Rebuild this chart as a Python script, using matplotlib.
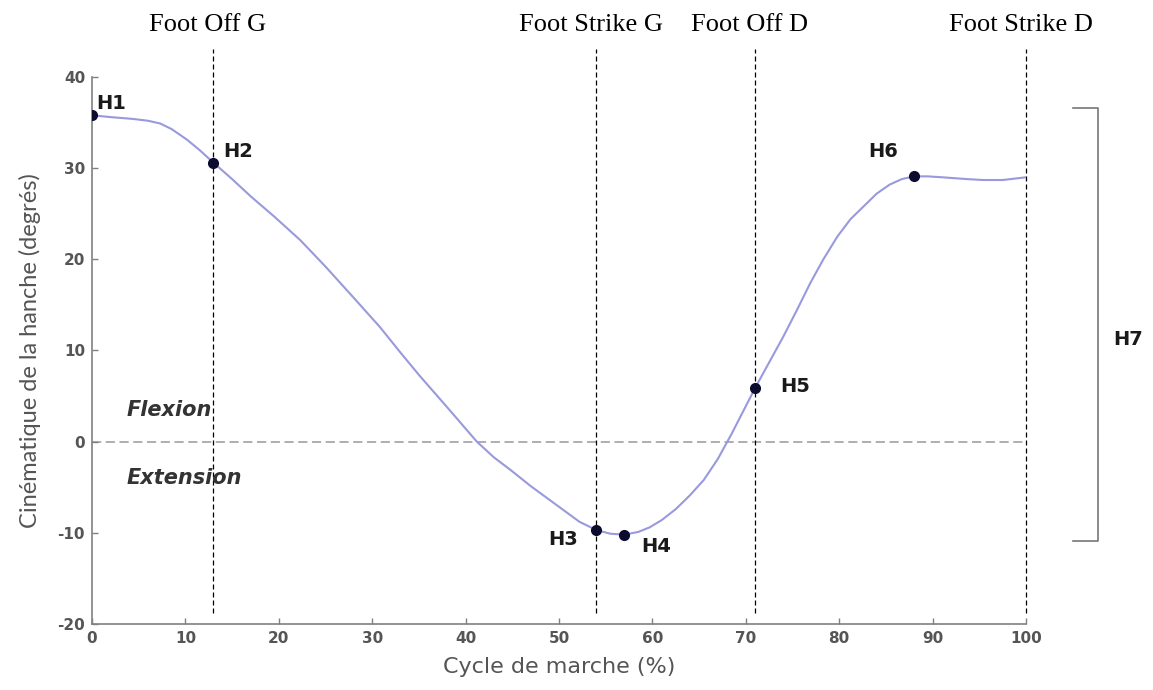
import matplotlib
matplotlib.use("Agg")
import matplotlib.pyplot as plt

plt.rcParams["axes.unicode_minus"] = False

# hip kinematics over the gait cycle
cycle = [0, 2, 4.4, 6, 7.3, 8.5, 9.5, 10.2, 11.5, 13, 15, 17, 19.5, 22.3, 25,
         28, 30.8, 33, 35.1, 38, 41.2, 43, 44.8, 47, 49, 51, 52.2, 54, 55.5,
         57, 58.5, 59.7, 61, 62.5, 64, 65.5, 67, 68.5, 70, 71, 72.5, 74, 75.5,
         76.9, 78.3, 79.8, 81.2, 82.5, 84, 85.4, 86.7, 88, 89.5, 91, 93.7,
         95.4, 97.5, 100]
angle = [35.8, 35.6, 35.4, 35.2, 34.9, 34.3, 33.6, 33.1, 32.0, 30.6, 28.8,
         26.9, 24.7, 22.1, 19.2, 15.8, 12.6, 9.8, 7.2, 3.8, 0.0, -1.7, -3.1,
         -4.9, -6.4, -7.9, -8.8, -9.7, -10.1, -10.2, -9.9, -9.4, -8.6, -7.4,
         -5.9, -4.2, -1.9, 0.9, 3.9, 5.9, 8.7, 11.5, 14.5, 17.4, 20.0, 22.5,
         24.4, 25.7, 27.2, 28.2, 28.8, 29.1, 29.1, 29.0, 28.8, 28.7, 28.7, 29.0]

# key points H1..H6
key_names = ["H1", "H2", "H3", "H4", "H5", "H6"]
key_x = [0, 13, 54, 57, 71, 88]
key_y = [35.8, 30.6, -9.7, -10.2, 5.9, 29.1]
# label anchors (x, y, horizontal alignment)
key_lab = [(0.5, 37.1, "left"), (14.0, 31.8, "left"), (52.0, -10.7, "right"),
           (58.8, -11.5, "left"), (73.7, 6.0, "left"), (83.1, 31.8, "left")]

# gait events
event_names = ["Foot Off G", "Foot Strike G", "Foot Off D", "Foot Strike D"]
event_x = [13, 54, 71, 100]

# H7 range bracket
h7_top = 36.6
h7_bottom = -10.9

fig = plt.figure(figsize=(11.53, 6.9), dpi=100)
ax = fig.add_axes([0.0798, 0.0957, 0.8101, 0.7927])

ax.plot(cycle, angle, color="#9999dd", lw=1.5, zorder=3)
ax.plot(key_x, key_y, "o", color="#0b0b2e", ms=7, zorder=4)
for name, (lx, ly, ha) in zip(key_names, key_lab):
    ax.text(lx, ly, name, ha=ha, va="center", fontsize=14,
            fontweight="bold", color="#1a1a1a")

ax.axhline(0, color="#999999", lw=1.1, ls=(0, (6, 3)), zorder=1)
ax.text(3.7, 3.5, "Flexion", fontsize=15, fontweight="bold",
        fontstyle="italic", color="#333333", va="center")
ax.text(3.7, -4.0, "Extension", fontsize=15, fontweight="bold",
        fontstyle="italic", color="#333333", va="center")

for name, ex in zip(event_names, event_x):
    ax.plot([ex, ex], [-18.8, 43.1], color="black", lw=0.9,
            ls=(0, (4, 2.4)), clip_on=False, zorder=2)
    ax.text(ex - 0.6, 45.0, name, ha="center", va="baseline", fontsize=19,
            family="Liberation Serif", color="black")

# bracket for H7
ax.plot([105.0, 107.7, 107.7, 105.0], [h7_top, h7_top, h7_bottom, h7_bottom],
        color="#777777", lw=1.2, clip_on=False)
ax.text(109.3, 11.2, "H7", fontsize=14, fontweight="bold",
        color="#1a1a1a", va="center")

ax.set_xlim(0, 100)
ax.set_ylim(-20, 40)
ax.set_xticks(range(0, 101, 10))
ax.set_yticks(range(-20, 41, 10))
for side in ["top", "right"]:
    ax.spines[side].set_visible(False)
for side in ["left", "bottom"]:
    ax.spines[side].set_color("#808080")
    ax.spines[side].set_linewidth(1.2)
ax.tick_params(direction="in", length=4, width=1, color="#808080",
               labelsize=11, labelcolor="#555555", pad=5)
for lab in ax.get_xticklabels() + ax.get_yticklabels():
    lab.set_fontweight("bold")

ax.set_xlabel("Cycle de marche (%)", fontsize=16, color="#555555", labelpad=8)
ax.set_ylabel("Cinématique de la hanche (degrés)", fontsize=17,
              color="#555555", family="Lato", labelpad=12)

fig.savefig("out.png", dpi=100)
